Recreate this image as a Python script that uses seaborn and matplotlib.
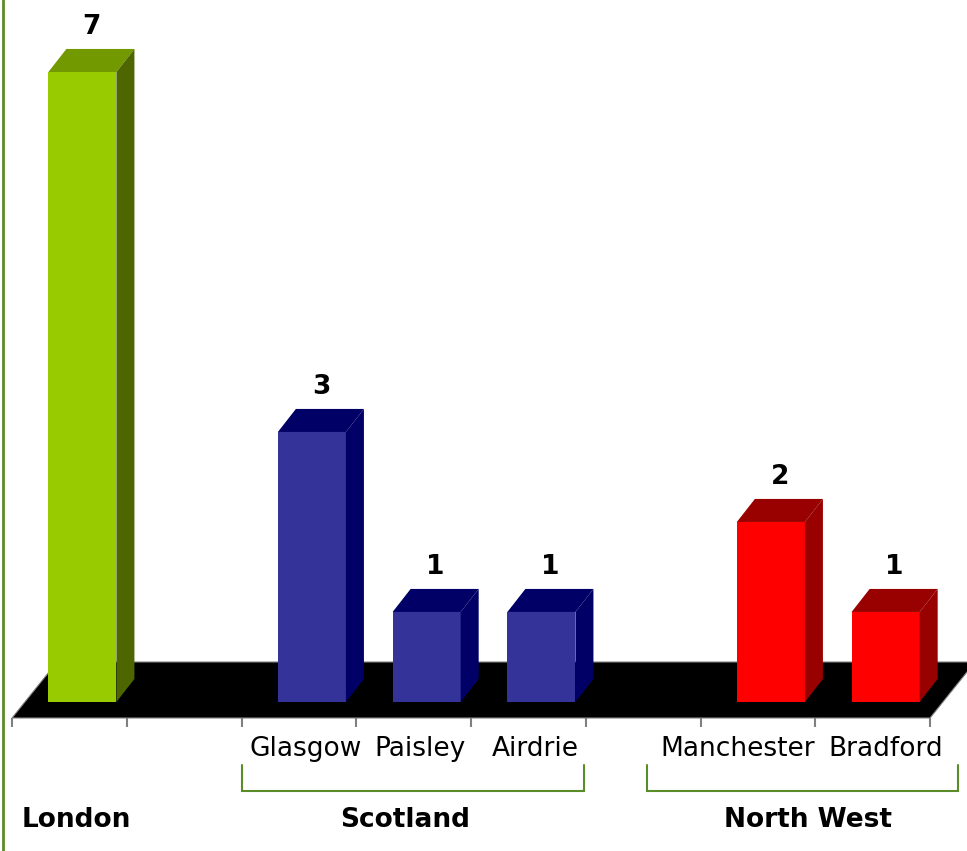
import matplotlib
matplotlib.use("Agg")
import matplotlib.pyplot as plt
from matplotlib.patches import Polygon
from matplotlib.lines import Line2D
import seaborn as sns
import pandas as pd

# ---- data ----
cities = ["London", "Glasgow", "Paisley", "Airdrie", "Manchester", "Bradford"]
values = [7, 3, 1, 1, 2, 1]
regions = ["London", "Scotland", "Scotland", "Scotland", "North West", "North West"]
slot_order = ["London", "gap1", "Glasgow", "Paisley", "Airdrie", "gap2", "Manchester", "Bradford"]
group_names = ["London", "Scotland", "North West"]

front_cols = {"London": "#99CC00", "Scotland": "#333399", "North West": "#FF0000"}
top_cols = {"London": "#739900", "Scotland": "#000066", "North West": "#990000"}
side_cols = {"London": "#4D6600", "Scotland": "#000066", "North West": "#990000"}
frame_green = "#5B8C2A"

df = pd.DataFrame({"city": cities, "value": values, "region": regions})

sns.set_theme(style="white")
plt.rcParams["font.family"] = ["DejaVu Sans"]
plt.rcParams["text.color"] = "black"

FS = 19

fig = plt.figure(figsize=(9.67, 8.51), dpi=100)
ax = fig.add_axes([0, 0, 1, 1])

sns.barplot(data=df, x="city", y="value", hue="region", order=slot_order,
            palette=front_cols, dodge=False, width=0.593, ax=ax,
            legend=False, linewidth=0, saturation=1, zorder=3)

ax.set_xlim(-0.718, 7.709)
ax.set_ylim(-1.656, 7.8)
ax.axis("off")

# 3D geometry (data units)
dx, dy = 0.157, 0.256          # bar depth
fx, fy = -0.113, -0.178        # floor front edge offset
bx, by = 0.279, 0.444          # floor back edge offset
n_slots = len(slot_order)

# floor
floor = Polygon([(-0.5 + fx, fy), (n_slots - 0.5 + fx, fy),
                 (n_slots - 0.5 + bx, by), (-0.5 + bx, by)],
                closed=True, facecolor="black", edgecolor="#808080",
                linewidth=0.8, zorder=1, clip_on=False)
ax.add_patch(floor)

# tick marks on front edge
for k in range(n_slots + 1):
    ax.plot([k - 0.5 + fx] * 2, [fy, fy - 0.1], color="#808080", lw=1.5,
            zorder=2, clip_on=False, solid_capstyle="butt")

# 3D faces and value labels, derived from seaborn's bars
bar_patches = [p for p in ax.patches if p is not floor and p.get_height() == p.get_height()
               and p.get_width() > 0 and p.get_height() > 0]
reg_of = dict(zip(cities, regions))
val_of = dict(zip(cities, values))
for p in bar_patches:
    x0, w, h = p.get_x(), p.get_width(), p.get_height()
    xc = x0 + w / 2
    idx = int(round(xc))
    city = slot_order[idx]
    reg = reg_of[city]
    top = Polygon([(x0, h), (x0 + w, h), (x0 + w + dx, h + dy), (x0 + dx, h + dy)],
                  closed=True, facecolor=top_cols[reg], edgecolor="none", zorder=3)
    side = Polygon([(x0 + w, 0), (x0 + w + dx, dy), (x0 + w + dx, h + dy), (x0 + w, h)],
                   closed=True, facecolor=side_cols[reg], edgecolor="none", zorder=3)
    ax.add_patch(top)
    ax.add_patch(side)
    ax.text(xc + dx / 2, h + dy + 0.1, f"{val_of[city]}", ha="center", va="bottom",
            fontsize=FS, fontweight="bold", color="black")

# category labels
cat_y = -0.522
for i, name in enumerate(slot_order):
    if name.startswith("gap") or name == "London":
        continue
    if name == "Manchester":
        ax.text(i + 0.5 + fx, cat_y, name, ha="right", va="center", fontsize=FS,
                color="black", clip_on=False)
    elif name == "Bradford":
        ax.text(i - 0.5, cat_y, name, ha="left", va="center", fontsize=FS,
                color="black", clip_on=False)
    else:
        ax.text(i - 0.055, cat_y, name, ha="center", va="center", fontsize=FS,
                color="black", clip_on=False)

# group brackets and labels
brackets = {"Scotland": (1.387, 4.371), "North West": (4.92, 7.63)}
for g, (a, b) in brackets.items():
    ax.plot([a, a, b, b], [-0.7, -0.989, -0.989, -0.7], color=frame_green, lw=1.5,
            clip_on=False, solid_joinstyle="miter")
group_x = {"London": -0.056, "Scotland": 2.81, "North West": 6.32}
for g in group_names:
    ax.text(group_x[g], -1.311, g, ha="center", va="center", fontsize=FS,
            fontweight="bold", color="black", clip_on=False)

# left frame line
fig.add_artist(Line2D([2.5 / 967, 2.5 / 967], [0, 1], color=frame_green, lw=2,
                      transform=fig.transFigure))

fig.savefig("out.png", dpi=100)
